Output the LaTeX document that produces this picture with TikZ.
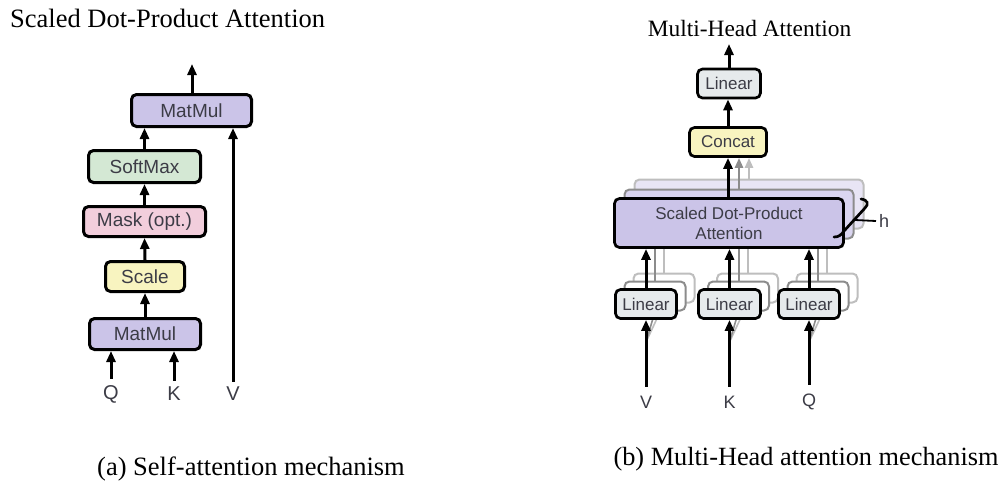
\documentclass[tikz,border=0pt]{standalone}
\usepackage{fontspec}
\setmainfont{Liberation Serif}
\setsansfont{Liberation Sans}
\usetikzlibrary{arrows.meta}

\definecolor{mmfill}{RGB}{203,196,232}
\definecolor{smfill}{RGB}{212,232,212}
\definecolor{mkfill}{RGB}{242,206,220}
\definecolor{scfill}{RGB}{248,244,192}
\definecolor{lnfill}{RGB}{230,234,236}
\definecolor{lbltext}{RGB}{60,60,70}
\definecolor{shadeA}{RGB}{140,140,140}
\definecolor{shadeB}{RGB}{190,190,190}
\definecolor{mmfillA}{RGB}{218,213,240}
\definecolor{mmfillB}{RGB}{232,229,245}

\tikzset{
  opbox/.style={draw=black, rounded corners=5pt, inner sep=0pt, align=center,
    font=\sffamily\fontsize{19}{22}\selectfont, text=lbltext},
  opleft/.style={opbox, line width=3pt},
  opright/.style={opbox, line width=2.7pt, font=\sffamily\fontsize{17}{20}\selectfont},
  ghostA/.style={opright, draw=shadeA, line width=2pt},
  ghostB/.style={opright, draw=shadeB, line width=2pt},
  flow/.style={line width=3pt, -{Triangle[length=11pt,width=9pt]}},
  flowA/.style={line width=2.4pt, draw=shadeA, -{Triangle[length=10pt,width=8pt]}, shadeA},
  flowB/.style={line width=2.4pt, draw=shadeB, -{Triangle[length=10pt,width=8pt]}, shadeB},
  plainA/.style={line width=2pt, shadeA},
  plainB/.style={line width=2pt, shadeB},
  inlabel/.style={font=\sffamily\fontsize{20}{22}\selectfont, text=lbltext, inner sep=0pt},
  inlabelR/.style={font=\sffamily\fontsize{18}{20}\selectfont, text=lbltext, inner sep=0pt},
}

\begin{document}
\begin{tikzpicture}[x=1pt,y=-1pt]
\useasboundingbox[fill=white] (0,0) rectangle (1001,491);

% ---------- Scaled dot-product attention ----------
\node[anchor=base west, inner sep=0pt, font=\fontsize{26.5}{28}\selectfont] (titleA) at (10,27) {Scaled Dot-Product Attention};

\node[opleft, fill=mmfill, minimum width=120pt, minimum height=32pt] (mmTop) at (191.5,110.5) {MatMul};
\node[opleft, fill=smfill, minimum width=112pt, minimum height=32pt] (soft) at (144.5,166.5) {SoftMax};
\node[opleft, fill=mkfill, minimum width=122pt, minimum height=30pt] (mask) at (144.5,221.5) {Mask (opt.)};
\node[opleft, fill=scfill, minimum width=79pt, minimum height=30pt] (scale) at (145,276.5) {Scale};
\node[opleft, fill=mmfill, minimum width=111pt, minimum height=31pt] (mmBot) at (145,334) {MatMul};

\node[inlabel] (q) at (111,394) {Q};
\node[inlabel] (k) at (174,394) {K};
\node[inlabel] (v) at (233,394) {V};
\coordinate (outA) at (192,64);

\draw[flow] ([yshift=6pt]q.north) -- (q.north |- mmBot.south);
\draw[flow] ([yshift=6pt]k.north) -- (k.north |- mmBot.south);
\draw[flow] (mmBot.north) -- (scale.south);
\draw[flow] (scale.north) -- (mask.south);
\draw[flow] (mask.north) -- (soft.south);
\draw[flow] (soft.north) -- (soft.north |- mmTop.south);
\draw[flow] ([yshift=5pt]v.north) -- (v.north |- mmTop.south);
\draw[flow] (mmTop.north -| outA) -- (outA);

% ---------- Multi-head attention ----------
\node[anchor=base, inner sep=0pt, font=\fontsize{23.4}{26}\selectfont] (titleB) at (749.5,36) {Multi-Head Attention};

\node[opright, fill=lnfill, minimum width=63pt, minimum height=29pt] (linOut) at (729,83.5) {Linear};
\node[opright, fill=scfill, minimum width=77pt, minimum height=29pt] (concat) at (728,142) {Concat};

% stacked heads behind the attention block
\node[ghostB, fill=mmfillB, minimum width=229pt, minimum height=49pt] (sdpaC) at (749,204) {};
\node[ghostA, fill=mmfillA, minimum width=229pt, minimum height=49pt] (sdpaB) at (739,214) {};
\draw[flowB] (sdpaC.north) -- (sdpaC.north |- concat.south);
\draw[flowA] (sdpaB.north) -- (sdpaB.north |- concat.south);

% stacked projections behind the Linear boxes
\foreach \n/\cx in {V/646, K/729.5, Q/809} {
  \node[ghostB, fill=white, minimum width=61pt, minimum height=29pt] (lin\n C) at (\cx+18,288) {};
  \node[ghostA, fill=white, minimum width=61pt, minimum height=29pt] (lin\n B) at (\cx+9,296) {};
  \draw[plainB] (lin\n C.north) -- (lin\n C.north |- sdpaC.south);
  \draw[plainA] (lin\n B.north) -- (lin\n B.north |- sdpaB.south);
  \coordinate (fork\n) at (\cx,342);
  \draw[plainB, line width=1.6pt] (fork\n) -- (lin\n C.south);
  \draw[plainA, line width=1.6pt] (fork\n) -- (lin\n B.south);
}

\node[opright, fill=mmfill, minimum width=229pt, minimum height=49pt] (sdpa) at (729,223) {Scaled Dot-Product\\Attention};

\node[opright, fill=lnfill, minimum width=61pt, minimum height=29pt] (linV) at (646,304) {Linear};
\node[opright, fill=lnfill, minimum width=62pt, minimum height=29pt] (linK) at (729.5,304) {Linear};
\node[opright, fill=lnfill, minimum width=61pt, minimum height=29pt] (linQ) at (809,304) {Linear};

\node[inlabelR] (vR) at (646,402) {V};
\node[inlabelR] (kR) at (729.5,402) {K};
\node[inlabelR] (qR) at (809,402) {Q};
\coordinate (outB) at (729,44);

\draw[flow] ([yshift=9pt]vR.north) -- (linV.south);
\draw[flow] ([yshift=9pt]kR.north) -- (linK.south);
\draw[flow] ([yshift=9pt]qR.north) -- (linQ.south);
\draw[flow] (linV.north) -- (linV.north |- sdpa.south);
\draw[flow] (linK.north) -- (linK.north |- sdpa.south);
\draw[flow] (linQ.north) -- (linQ.north |- sdpa.south);
\draw[flow] (sdpa.north -| concat.south) -- (concat.south);
\draw[flow] (concat.north) -- (concat.north |- linOut.south);
\draw[flow] (linOut.north) -- (outB);

% brace marking the h heads
\draw[line width=2.7pt, line cap=round] (861,199) .. controls (868,200) and (869,204) .. (865,208)
  -- (844,231) .. controls (841,235) and (839,237) .. (834,237);
\coordinate (braceMid) at (855,220);
\node[inlabelR, anchor=west] (h) at (879,221) {h};
\draw[line width=1.8pt] (braceMid) -- ([xshift=-3pt]h.west);

% ---------- captions ----------
\node[inner sep=0pt, font=\fontsize{26.5}{28}\selectfont] (capA) at (251,469) {(a) Self-attention mechanism};
\node[inner sep=0pt, font=\fontsize{26.3}{28}\selectfont] (capB) at (806,459) {(b) Multi-Head attention mechanism};
\end{tikzpicture}
\end{document}
